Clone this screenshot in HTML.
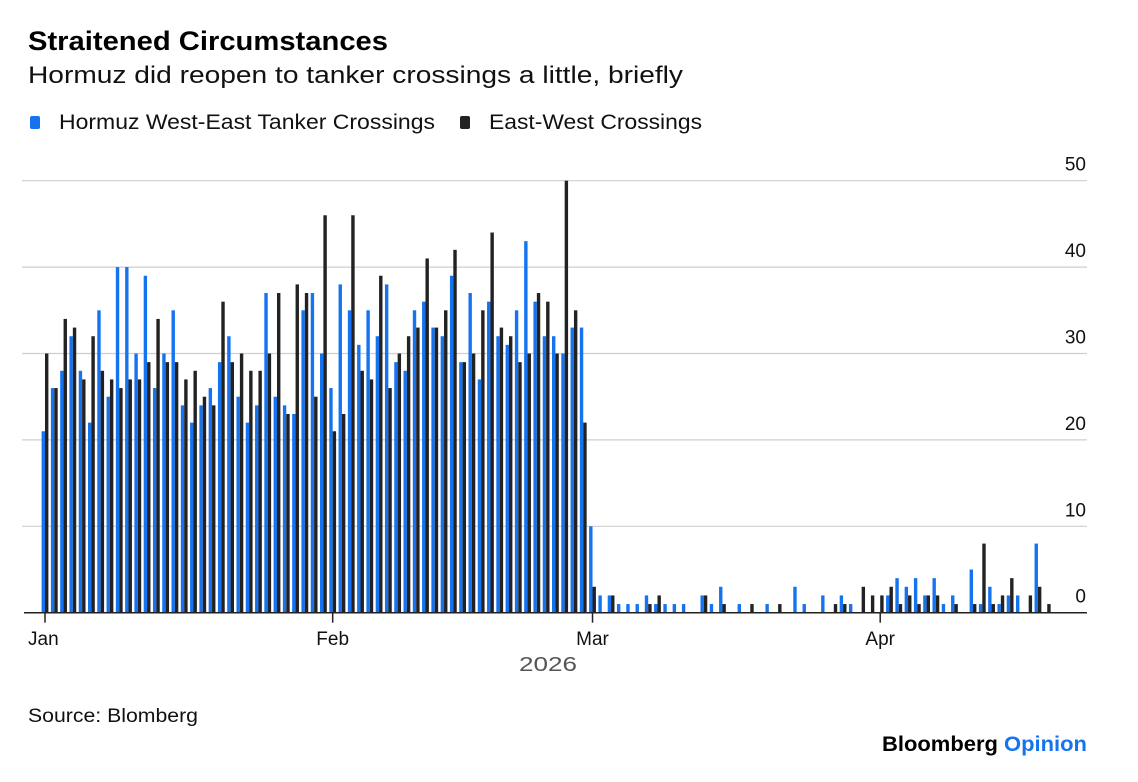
<!DOCTYPE html>
<html><head><meta charset="utf-8"><style>
html,body{margin:0;padding:0;background:#fff;}
body{width:1138px;height:782px;overflow:hidden;font-family:"Liberation Sans",sans-serif;}
svg{display:block}
</style></head><body>
<svg id="chart" width="1138" height="782" xmlns="http://www.w3.org/2000/svg" font-family="Liberation Sans, sans-serif">
<text x="28" y="50" font-size="27" font-weight="bold" fill="#000" textLength="360" lengthAdjust="spacingAndGlyphs">Straitened Circumstances</text>
<text x="28" y="83" font-size="24" fill="#111" textLength="655" lengthAdjust="spacingAndGlyphs">Hormuz did reopen to tanker crossings a little, briefly</text>
<g>
<rect x="30" y="116" width="10" height="13" rx="2" fill="#1673f0"/>
<text x="59" y="129" font-size="21" fill="#111" textLength="376" lengthAdjust="spacingAndGlyphs">Hormuz West-East Tanker Crossings</text>
<rect x="460" y="116" width="10" height="13" rx="2" fill="#222"/>
<text x="489" y="129" font-size="21" fill="#111" textLength="213" lengthAdjust="spacingAndGlyphs">East-West Crossings</text>
</g>
<g id="grid"></g>
<g id="bars"></g>
<g id="xaxis"></g>
<text x="519" y="671" font-size="20" fill="#555" textLength="58" lengthAdjust="spacingAndGlyphs">2026</text>
<text x="28" y="722" font-size="19" fill="#111" textLength="170" lengthAdjust="spacingAndGlyphs">Source: Blomberg</text>
<text x="882" y="751" font-size="21" font-weight="bold" fill="#000" textLength="205" lengthAdjust="spacingAndGlyphs">Bloomberg <tspan fill="#1673f0">Opinion</tspan></text>
</svg>
<script>
const blueValues = [21,26,28,32,28,22,35,25,40,40,30,39,26,30,35,24,22,24,26,29,
32,25,22,24,37,25,24,23,35,37,30,26,38,35,31,35,32,38,29,28,
35,36,33,32,39,29,37,27,36,32,31,35,43,36,32,32,30,33,33,10,
2,2,1,1,1,2,1,1,1,1,0,2,1,3,0,1,0,0,1,0,0,3,1,0,2,0,2,1,0,0,0,2,4,3,4,2,4,1,2,0,5,1,3,1,2,2,0,8,0];
const blackValues = [30,26,34,33,27,32,28,27,26,27,27,29,34,29,29,27,28,25,24,36,
29,30,28,28,30,37,23,38,37,25,46,21,23,46,28,27,39,26,30,32,
33,41,33,35,42,29,30,35,44,33,32,29,30,37,36,30,50,35,22,3,
0,2,0,0,0,1,2,0,0,0,0,2,0,1,0,0,1,0,0,1,0,0,0,0,0,1,1,0,3,2,2,3,1,2,1,2,2,0,1,0,1,8,1,2,4,0,2,3,1];
const yTicks = [0,10,20,30,40,50];
const monthLabels = ["Jan","Feb","Mar","Apr"];
const monthDayIndex = [0,31,59,90];

const NS = "http://www.w3.org/2000/svg";
const x = i => 45 + i * 9.28;
const y = v => 612.7 - v * 8.64;
const grid = document.getElementById('grid');
const bars = document.getElementById('bars');
const xaxis = document.getElementById('xaxis');
function mk(tag, attrs){const e=document.createElementNS(NS,tag);for(const k in attrs)e.setAttribute(k,attrs[k]);return e;}

yTicks.forEach(t=>{
  if(t>0){
    const l=mk('line',{x1:22,x2:1087,y1:y(t),y2:y(t),stroke:'#cfcfcf','stroke-width':1.2});
    
    
    grid.appendChild(l);
  }
  const tx=mk('text',{x:1086,y:y(t)-10,'font-size':19,'text-anchor':'end',fill:'#111'});
  tx.textContent=t;
  
  
  grid.appendChild(tx);
});

blueValues.forEach((v,i)=>{
  if(v<=0) return;
  const r=mk('rect',{x:x(i)-3.4,y:y(v),width:3.4,height:y(0)-y(v),fill:'#1673f0'});
  
  
  bars.appendChild(r);
});
blackValues.forEach((v,i)=>{
  if(v<=0) return;
  const r=mk('rect',{x:x(i),y:y(v),width:3.4,height:y(0)-y(v),fill:'#222'});
  
  
  bars.appendChild(r);
});

const base=mk('line',{x1:24,x2:1087,y1:y(0),y2:y(0),stroke:'#222','stroke-width':1.5});


xaxis.appendChild(base);
monthLabels.forEach((m,k)=>{
  const xi=x(monthDayIndex[k]);
  const tk=mk('line',{x1:xi,x2:xi,y1:y(0),y2:y(0)+10,stroke:'#222','stroke-width':1.5});
  
  
  xaxis.appendChild(tk);
  const first = k===0;
  const tx=mk('text',{x:first?28:xi,y:645,'font-size':19,'text-anchor':first?'start':'middle',fill:'#111'});
  tx.textContent=m;
  
  
  xaxis.appendChild(tx);
});
</script>
</body></html>
